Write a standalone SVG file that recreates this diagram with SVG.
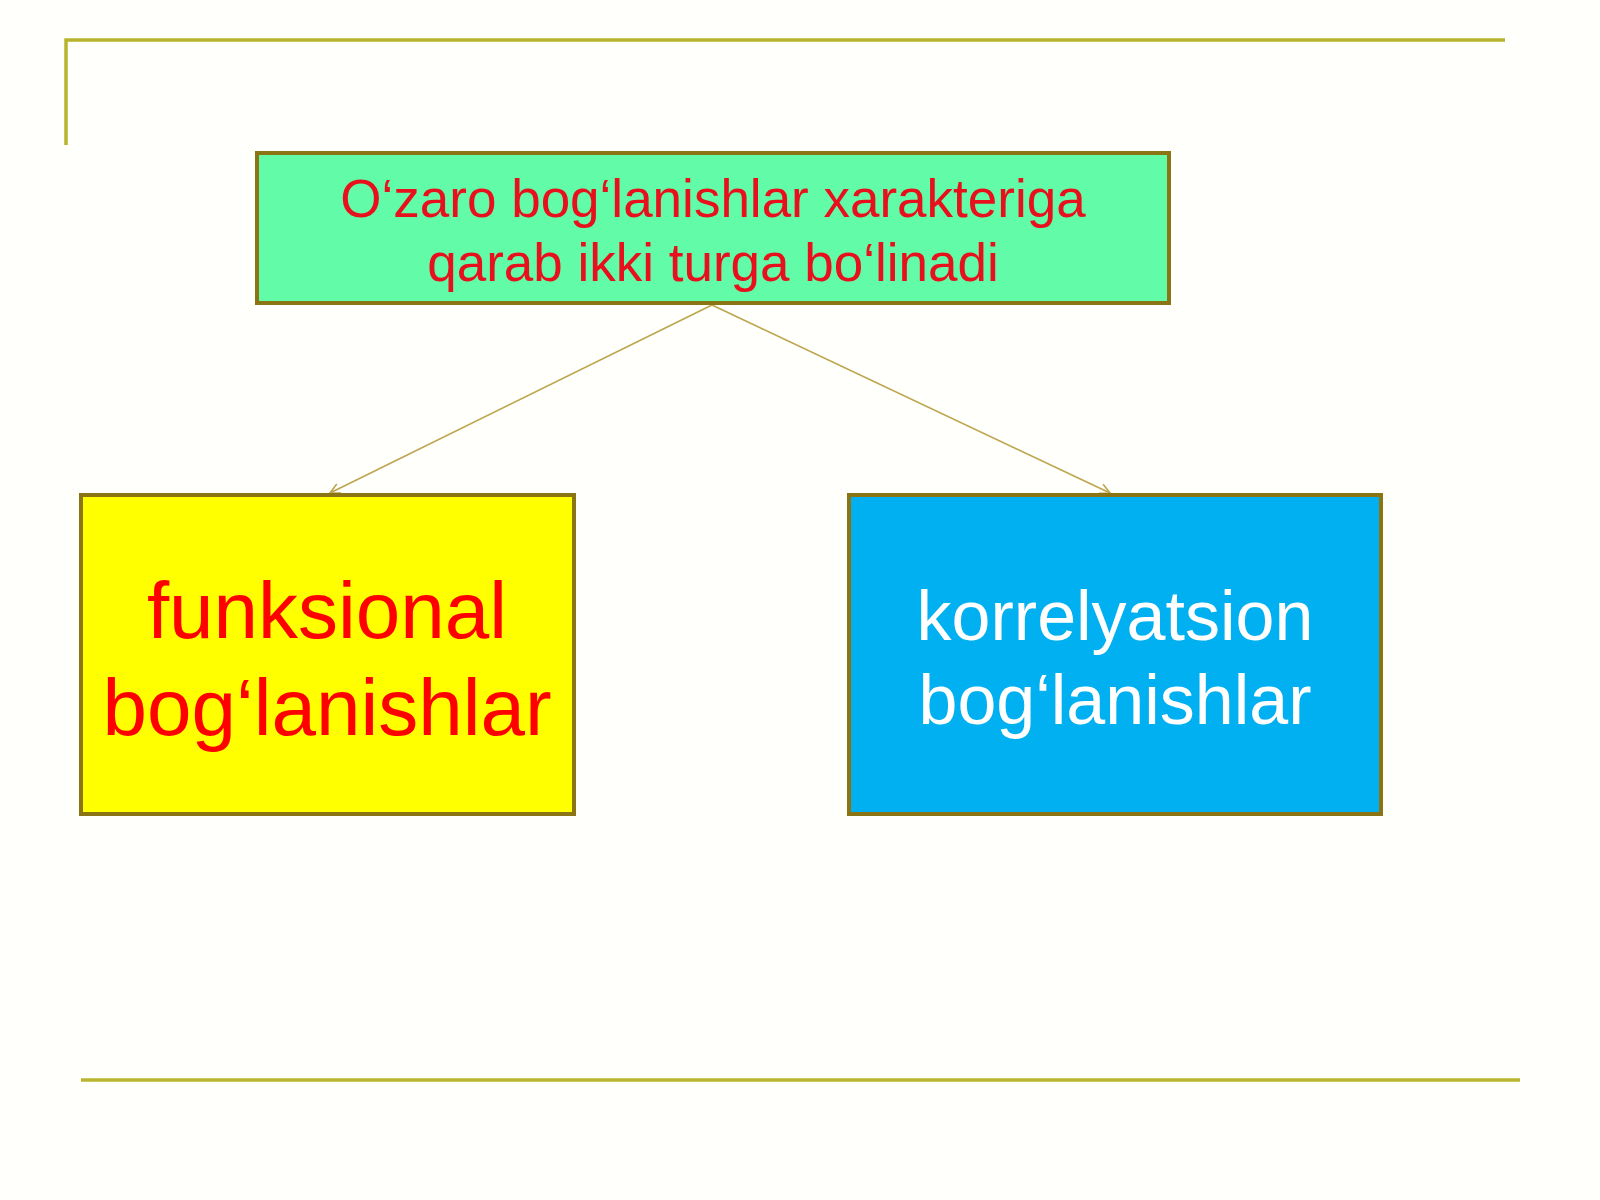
<svg xmlns="http://www.w3.org/2000/svg" width="1600" height="1200" viewBox="0 0 1600 1200">
<defs>
<style>
.frame{stroke:#b8b42c;stroke-width:3.5;fill:none}
.box{stroke:#8a7414;stroke-width:4}
.conn{stroke:#bda54e;stroke-width:1.6;fill:none}
text{font-family:"Liberation Sans",Arial,sans-serif;text-anchor:middle}
</style>
<marker id="arr" viewBox="0 0 12 12" refX="11" refY="6" markerWidth="12" markerHeight="12" markerUnits="userSpaceOnUse" orient="auto">
<path d="M1,1 L11,6 L1,11" fill="none" stroke="#bda54e" stroke-width="1.6"/>
</marker>
</defs>
<rect width="1600" height="1200" fill="#fffffc"/>
<g id="frame">
<polyline class="frame" points="66,145 66,40 1505,40"/>
<line class="frame" x1="81" y1="1080" x2="1520" y2="1080"/>
</g>
<g id="connectors">
<line class="conn" x1="712" y1="305" x2="330" y2="493" marker-end="url(#arr)"/>
<line class="conn" x1="712" y1="305" x2="1110" y2="493" marker-end="url(#arr)"/>
</g>
<g id="node-top">
<rect class="box" x="257" y="153" width="912" height="150" fill="#62fba8"/>
<text x="713" y="217" font-size="53" fill="#e8101c">O‘zaro bog‘lanishlar xarakteriga</text>
<text x="713" y="281" font-size="53" fill="#e8101c">qarab ikki turga bo‘linadi</text>
</g>
<g id="node-left">
<rect class="box" x="81" y="495" width="493" height="319" fill="#ffff00"/>
<text x="327" y="638" font-size="80" fill="#ff0000">funksional</text>
<text x="327" y="735" font-size="80" fill="#ff0000">bog‘lanishlar</text>
</g>
<g id="node-right">
<rect class="box" x="849" y="495" width="532" height="319" fill="#00b0f0"/>
<text x="1115" y="640" font-size="70" fill="#ffffff">korrelyatsion</text>
<text x="1115" y="724" font-size="70" fill="#ffffff">bog‘lanishlar</text>
</g>
</svg>
